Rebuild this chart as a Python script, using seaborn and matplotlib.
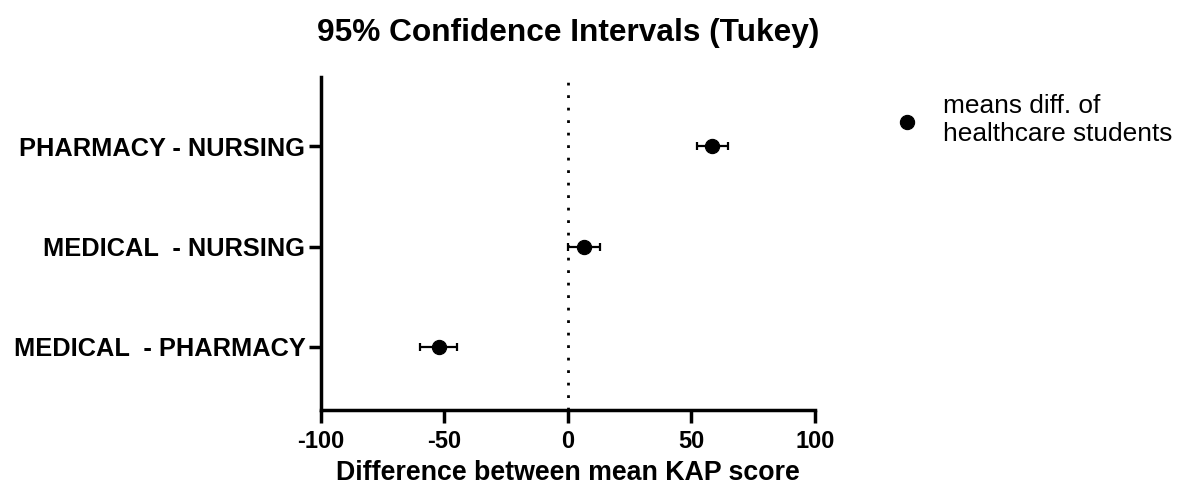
import matplotlib
matplotlib.use("Agg")
import matplotlib.pyplot as plt
from matplotlib import font_manager as fm
import seaborn as sns
import pandas as pd

categories = ["PHARMACY - NURSING", "MEDICAL  - NURSING", "MEDICAL  - PHARMACY"]
mean_diff = [58.6, 6.6, -52.3]
lower = [52.5, 0.2, -59.9]
upper = [64.8, 13.0, -44.7]
xticks = [-100, -50, 0, 50, 100]

df = pd.DataFrame({"cat": categories, "diff": mean_diff, "lo": lower, "hi": upper})

sns.set_style("ticks", {"text.color": "black", "axes.labelcolor": "black",
                        "xtick.color": "black", "ytick.color": "black",
                        "axes.edgecolor": "black"})
plt.rcParams["font.family"] = ["Liberation Sans", "DejaVu Sans"]


def find_font(bold):
    for f in fm.fontManager.ttflist:
        p = f.fname.lower()
        if "liberationsans" in p.replace("-", "").replace("_", "") and "narrow" not in p \
                and "italic" not in p:
            if bold and "bold" in p:
                return f.fname
            if not bold and "regular" in p:
                return f.fname
    return None


bold_path = find_font(True)
reg_path = find_font(False)


def fp(size, bold=True):
    path = bold_path if bold else reg_path
    if path:
        return fm.FontProperties(fname=path, size=size)
    return fm.FontProperties(family="Liberation Sans", weight="bold" if bold else "normal", size=size)


fig = plt.figure(figsize=(11.79, 4.99), dpi=100)
ax = fig.add_axes([0.272, 0.178, 0.419, 0.668])

ypos = list(range(len(categories)))
ax.errorbar(df["diff"], ypos,
            xerr=[df["diff"] - df["lo"], df["hi"] - df["diff"]],
            fmt="none", ecolor="black", elinewidth=1.6, capsize=2.8, capthick=1.6, zorder=2)
sns.scatterplot(x=df["diff"], y=ypos, ax=ax, color="black", s=105,
                edgecolor="black", linewidth=0.8, zorder=3,
                label="means diff. of\nhealthcare students")
ax.axvline(0, color="black", linestyle=(0, (1, 3.5)), linewidth=2, zorder=1)

ax.set_xlim(-100, 100)
ax.set_ylim(2.63, -0.69)
ax.set_xticks(xticks)
ax.set_xticklabels([str(t) for t in xticks], fontproperties=fp(17))
ax.set_yticks(ypos)
ax.set_yticklabels(categories, fontproperties=fp(18.3))
ax.set_xlabel("Difference between mean KAP score", fontproperties=fp(19.3), labelpad=5)
ax.set_ylabel("")
ax.set_title("95% Confidence Intervals (Tukey)", fontproperties=fp(22.8), pad=26)

for s in ["top", "right"]:
    ax.spines[s].set_visible(False)
for s in ["left", "bottom"]:
    ax.spines[s].set_linewidth(2.5)
    ax.spines[s].set_color("black")
ax.tick_params(axis="both", width=2.5, length=9, color="black", pad=2)
ax.tick_params(axis="x", pad=5)

leg = ax.legend(loc="upper left", bbox_to_anchor=(1.085, 1.02), frameon=False,
                prop=fp(18.9, bold=False), handletextpad=0.4, markerscale=1.0,
                labelspacing=0.2)
for t in leg.get_texts():
    t.set_linespacing(1.2)

fig.savefig("out.png", dpi=100)
